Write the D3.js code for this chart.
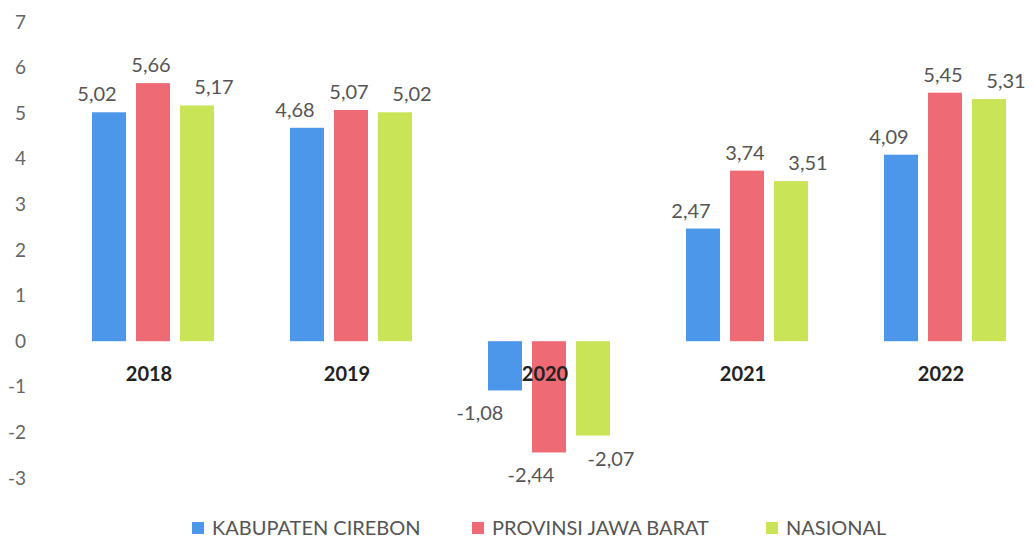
<!DOCTYPE html>
<html>
<head>
<meta charset="utf-8">
<script src="https://cdn.jsdelivr.net/npm/d3@7"></script>
<style>
  body { margin: 0; background: #fff; }
  svg { font-family: Lato, "Open Sans", sans-serif; }
</style>
</head>
<body>
<div id="chart"></div>
<script>
var width = 1034,
  height = 540;

// data
var years = ["2018", "2019", "2020", "2021", "2022"];
var series = ["KABUPATEN CIREBON", "PROVINSI JAWA BARAT", "NASIONAL"];
var cirebon = [5.02, 4.68, -1.08, 2.47, 4.09];
var jabar = [5.66, 5.07, -2.44, 3.74, 5.45];
var nasional = [5.17, 5.02, -2.07, 3.51, 5.31];
var yTicks = [7, 6, 5, 4, 3, 2, 1, 0, -1, -2, -3];

var colors = ["#4d97ea", "#ee6a74", "#c9e457"];
var values = [cirebon, jabar, nasional];

// labels in the source sit a bit off the bar centres
var labelDx = [-12, -2, 17];
var labelDxNeg = [-25, -18, 18];

var rows = [];
years.forEach(function (y, i) {
  series.forEach(function (s, j) {
    rows.push({ year: y, s: j, v: values[j][i] });
  });
});

var svg = d3
  .select("#chart")
  .append("svg")
  .attr("width", width)
  .attr("height", height);

var x = d3.scaleBand().domain(years).range([54, 1044]).padding(0);
var xs = d3
  .scaleBand()
  .domain(d3.range(series.length))
  .range([-66, 66])
  .paddingInner(10 / 44)
  .paddingOuter(5 / 44);
var y = d3.scaleLinear().domain([-3, 7]).range([478, 22]);

// y axis labels only, no line (plain hyphen for negatives)
var yAxis = svg
  .append("g")
  .attr("transform", "translate(26,0)")
  .call(d3.axisLeft(y).tickValues(yTicks).tickSize(0).tickPadding(0).tickFormat(function (d) { return String(d); }));
yAxis.select(".domain").remove();
yAxis
  .selectAll("text")
  .attr("fill", "#666")
  .style("font-size", "19px")
  .style("font-family", "Lato, sans-serif");

// bars
svg
  .append("g")
  .selectAll("rect")
  .data(rows)
  .enter()
  .append("rect")
  .attr("x", function (d) { return x(d.year) + x.bandwidth() / 2 + xs(d.s); })
  .attr("width", xs.bandwidth())
  .attr("y", function (d) { return y(Math.max(0, d.v)); })
  .attr("height", function (d) { return Math.abs(y(d.v) - y(0)); })
  .attr("fill", function (d) { return colors[d.s]; });

// year labels sit just under the zero line
svg
  .append("g")
  .selectAll("text")
  .data(years)
  .enter()
  .append("text")
  .attr("x", function (d) { return x(d) + x.bandwidth() / 2 - 4; })
  .attr("y", y(0) + 40)
  .attr("text-anchor", "middle")
  .attr("fill", "#222")
  .style("font-weight", "bold")
  .style("font-size", "20px")
  .text(function (d) { return d; });

// value labels
var fmt = function (v) { return v.toFixed(2).replace(".", ","); };
svg
  .append("g")
  .selectAll("text")
  .data(rows)
  .enter()
  .append("text")
  .attr("x", function (d) {
    var dx = d.v < 0 ? labelDxNeg[d.s] : labelDx[d.s];
    return x(d.year) + x.bandwidth() / 2 + xs(d.s) + xs.bandwidth() / 2 + dx;
  })
  .attr("y", function (d) { return d.v < 0 ? y(d.v) + 30 : y(d.v) - 11; })
  .attr("text-anchor", "middle")
  .attr("fill", "#555")
  .style("font-size", "20px")
  .text(function (d) { return fmt(d.v); });

// legend
var legendX = [192, 472, 766];
var legend = svg
  .append("g")
  .selectAll("g")
  .data(series)
  .enter()
  .append("g")
  .attr("transform", function (d, i) { return "translate(" + legendX[i] + ",528)"; });
legend
  .append("rect")
  .attr("x", 0)
  .attr("y", -6)
  .attr("width", 12)
  .attr("height", 12)
  .attr("fill", function (d, i) { return colors[i]; });
legend
  .append("text")
  .attr("x", 20)
  .attr("y", 0)
  .attr("dy", "0.36em")
  .attr("fill", "#555")
  .style("font-size", "20px")
  .text(function (d) { return d; });
</script>
</body>
</html>
